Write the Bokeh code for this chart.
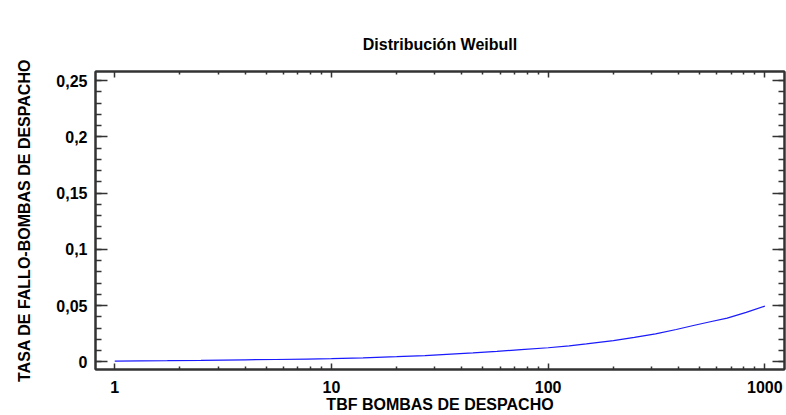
from bokeh.plotting import figure
from bokeh.models import LogAxis, LinearAxis, FixedTicker, Range1d
from bokeh.embed import file_html
from bokeh.resources import INLINE
import numpy as np

# ---- data ----
tbf = [1, 1.75, 2.5, 4, 5.5, 7.7, 10, 14, 20, 27, 34, 45, 58, 75, 100, 125,
       150, 200, 250, 313, 390, 468, 560, 670, 820, 1000]
hazard = [0.0008, 0.0011, 0.0014, 0.0019, 0.0022, 0.0026, 0.0029, 0.0036,
          0.0047, 0.0057, 0.0068, 0.0081, 0.0094, 0.0110, 0.0126, 0.0143,
          0.0160, 0.0190, 0.0218, 0.0250, 0.0288, 0.0324, 0.0357, 0.0389,
          0.0440, 0.0496]

x_ticks = [1, 10, 100, 1000]
x_tick_labels = ["1", "10", "100", "1000"]
y_ticks = [0, 0.05, 0.1, 0.15, 0.2, 0.25]
y_tick_labels = ["0", "0,05", "0,1", "0,15", "0,2", "0,25"]

title_text = "Distribución Weibull"
x_label = "TBF BOMBAS DE DESPACHO"
y_label = "TASA DE FALLO-BOMBAS DE DESPACHO"

FONT = "Liberation Sans"
FS = "16px"
AX_COL = "#333333"

x_minor = [m * 10 ** k for k in range(0, 3) for m in range(2, 10)]
y_minor = [round(v, 3) for v in np.arange(0.0, 0.26, 0.01)]

p = figure(width=786, height=415, x_axis_type="log",
           x_range=Range1d(0.815, 1232), y_range=Range1d(-0.0067, 0.258),
           output_backend="svg", toolbar_location=None,
           min_border_left=95, min_border_right=2,
           min_border_top=71, min_border_bottom=46)

p.title.text = title_text
p.title.align = "center"
p.title.text_font = FONT
p.title.text_font_size = FS
p.title.text_font_style = "bold"
p.title.text_color = "black"
p.title.standoff = 38

p.line(tbf, hazard, line_color="#1a1aff", line_width=1.2)

p.xgrid.visible = False
p.ygrid.visible = False
p.outline_line_color = AX_COL
p.outline_line_width = 2
p.background_fill_color = "white"
p.border_fill_color = "white"

xt = FixedTicker(ticks=x_ticks, minor_ticks=x_minor)
yt = FixedTicker(ticks=y_ticks, minor_ticks=y_minor)

def style_axis(ax, major_in, minor_in, labels=True):
    ax.axis_line_color = AX_COL
    ax.axis_line_width = 2
    ax.major_tick_line_color = AX_COL
    ax.minor_tick_line_color = AX_COL
    ax.major_tick_line_width = 1.5
    ax.minor_tick_line_width = 1.5
    ax.major_tick_in = major_in
    ax.major_tick_out = 0
    ax.minor_tick_in = minor_in
    ax.minor_tick_out = 0
    ax.major_label_text_font = FONT
    ax.major_label_text_font_style = "bold"
    ax.major_label_text_color = "black"
    ax.axis_label_text_font = FONT
    ax.axis_label_text_font_style = "bold"
    ax.axis_label_text_font_size = FS
    ax.axis_label_text_color = "black"
    if labels:
        ax.major_label_text_font_size = FS
    else:
        ax.major_label_text_font_size = "1px"
        ax.major_label_text_alpha = 0
        ax.major_label_standoff = 0

xa = p.xaxis[0]
xa.ticker = xt
xa.major_label_overrides = {float(t): l for t, l in zip(x_ticks, x_tick_labels)}
xa.axis_label = x_label
style_axis(xa, 6, 3)
xa.major_label_standoff = 11
xa.axis_label_standoff = 0

ya = p.yaxis[0]
ya.ticker = yt
ya.major_label_overrides = {float(t): l for t, l in zip(y_ticks, y_tick_labels)}
ya.axis_label = y_label
style_axis(ya, 12, 6)
ya.major_label_standoff = 8
ya.axis_label_standoff = 20

top = LogAxis(ticker=xt)
style_axis(top, 6, 3, labels=False)
p.add_layout(top, "above")

right = LinearAxis(ticker=yt)
style_axis(right, 12, 6, labels=False)
p.add_layout(right, "right")

open("out.html", "w").write(file_html(p, INLINE))
